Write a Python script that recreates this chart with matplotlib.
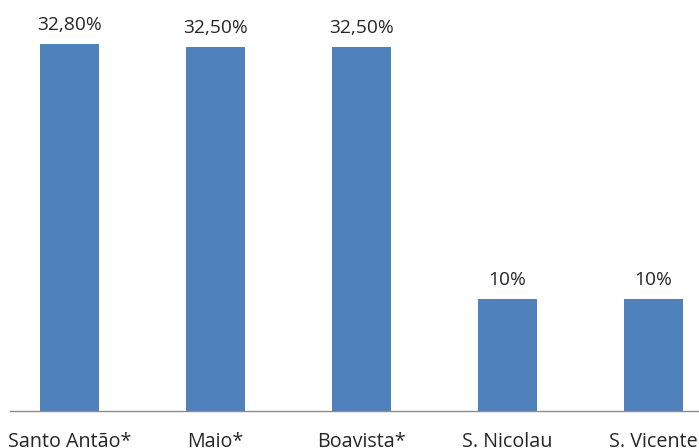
import matplotlib
matplotlib.use('Agg')
import matplotlib.pyplot as plt

islands = ['Santo Antão*', 'Maio*', 'Boavista*', 'S. Nicolau', 'S. Vicente']
values = [32.8, 32.5, 32.5, 10, 10]
value_labels = ['32,80%', '32,50%', '32,50%', '10%', '10%']

plt.rcParams['font.family'] = ['Open Sans', 'DejaVu Sans']

fig = plt.figure(figsize=(6.99, 4.48), dpi=100)
ax = fig.add_axes([10/699, 37/448, 689/699, 411/448])

x = range(len(islands))
bars = ax.bar(x, values, width=0.4, color='#4F81BD', zorder=2)

for b, lab in zip(bars, value_labels):
    ax.text(b.get_x() + b.get_width()/2, b.get_height() + 0.9, lab,
            ha='center', va='bottom', fontsize=13.8, color='#262626')

ax.set_xlim(-0.4075, 4.312)
ax.set_ylim(0, 36.7)
ax.set_xticks(list(x))
ax.set_xticklabels(islands, fontsize=14.2, color='#262626')
ax.tick_params(axis='x', length=0, pad=15)
ax.set_yticks([])

for s in ['top', 'right', 'left']:
    ax.spines[s].set_visible(False)
ax.spines['bottom'].set_color('#8C8C8C')
ax.spines['bottom'].set_linewidth(1)

fig.savefig('out.png', dpi=100)
